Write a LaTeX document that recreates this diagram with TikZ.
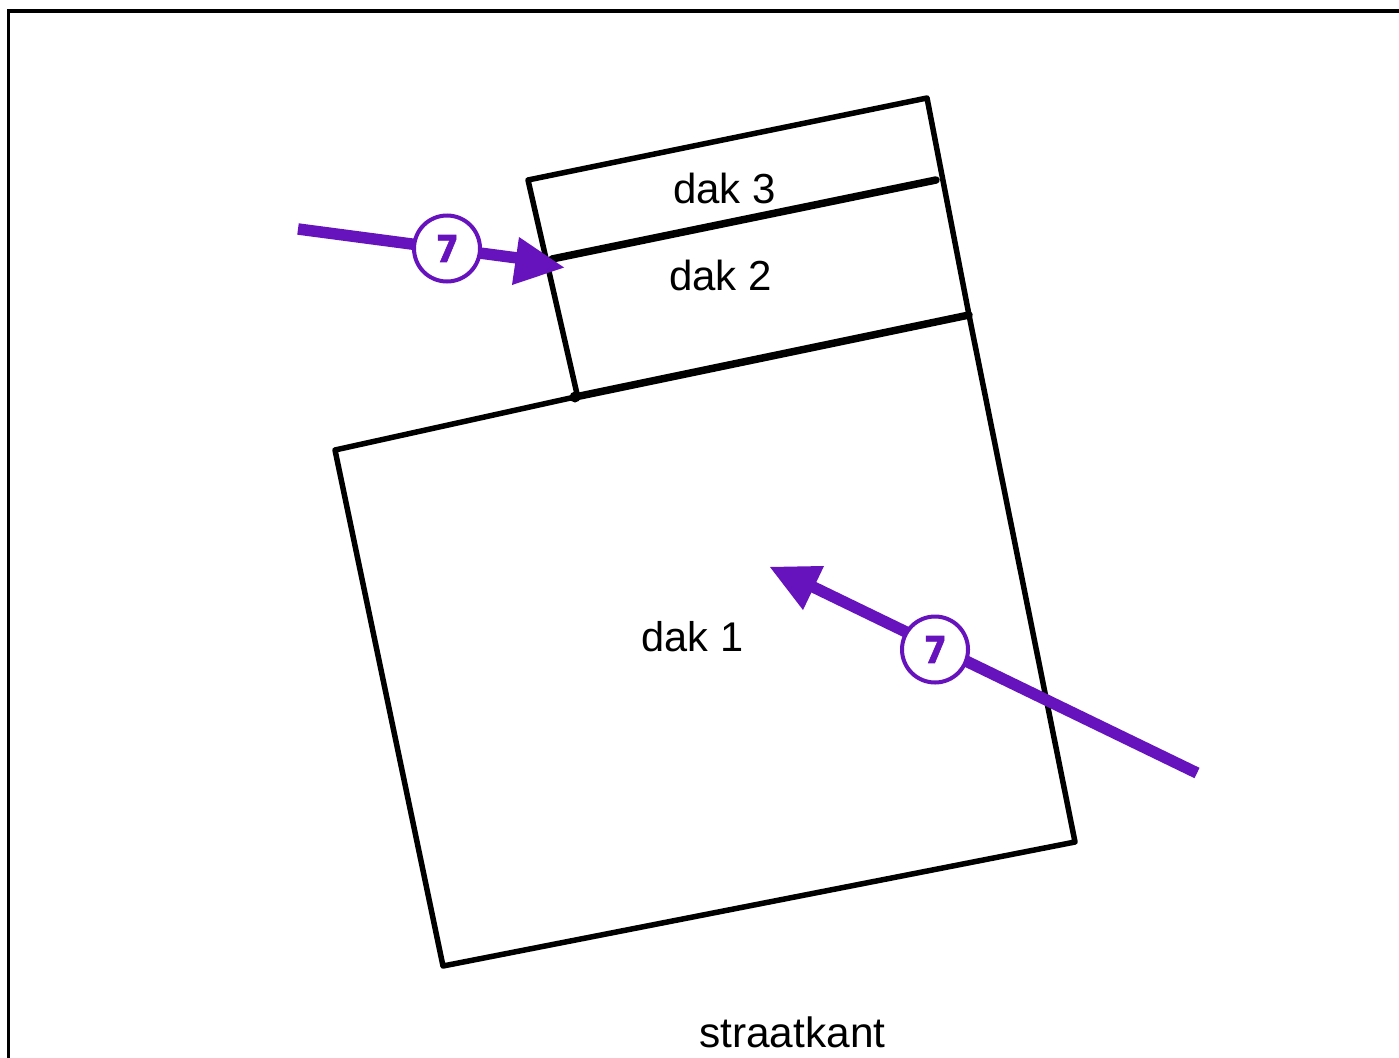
\documentclass[tikz,border=0pt]{standalone}
\usepackage{fontspec}
\setmainfont{Liberation Sans}
\newfontfamily\numfont[FakeBold=1.5]{Poppins}
\definecolor{arrowpurple}{HTML}{6612BD}
\tikzset{
  x=1pt,y=-1pt,
  frameline/.style={draw=black,line width=3.6pt,line join=miter},
  wall/.style={draw=black,line width=5.5pt,line join=round,line cap=round},
  ridge/.style={draw=black,line width=7.5pt,line cap=round},
  shaft/.style={draw=arrowpurple,line width=11.5pt},
  head/.style={fill=arrowpurple,draw=none},
  badge/.style={circle,draw=arrowpurple,fill=white,line width=4pt,minimum size=66pt,inner sep=0pt,
    text=arrowpurple,font=\numfont\bfseries\fontsize{37}{44}\selectfont},
  label/.style={anchor=base west,inner sep=0pt,font=\fontsize{42}{50}\selectfont}
}
\begin{document}
\begin{tikzpicture}
\useasboundingbox (0,0) rectangle (1399,1057);
\fill[white] (0,0) rectangle (1399,1057);
\begin{scope}
\clip (0,0) rectangle (1399,1057);
\draw[frameline] (8.5,1060) -- (8.5,11) -- (1402,11);
\end{scope}
% corners
\coordinate (a) at (335,450);
\coordinate (b) at (443,966);
\coordinate (c) at (1075,842);
\coordinate (d) at (969,315);
\coordinate (e) at (575,397);
\coordinate (e2) at (577,394);
\coordinate (f) at (528,180);
\coordinate (g) at (927,98);
\coordinate (h) at (552,259);
\coordinate (i) at (936,180);
\draw[wall] (e) -- (a) -- (b) -- (c) -- (d) -- (g) -- (f) -- (e2);
\draw[ridge] (h) -- (i);
\draw[ridge] (e) -- (d);
\fill (e) circle (5.5pt);
% labels
\node[label] (dak3) at (673,203) {dak 3};
\node[label] (dak2) at (669,290) {dak 2};
\node[label,font=\fontsize{41.5}{50}\selectfont] (dak1) at (641.5,651) {dak 1};
\node[label,font=\fontsize{42.4}{50}\selectfont] (street) at (699,1047) {straatkant};
% arrows
\coordinate (s1) at (298,229);
\coordinate (t1) at (525,259);
\coordinate (s2) at (1197,773);
\coordinate (t2) at (805,583);
\draw[shaft] (s1) -- (t1);
\fill[head] (564,267.5) -- (519,237) -- (512,285) -- cycle;
\draw[shaft] (s2) -- (t2);
\fill[head] (770,567) -- (824,566) -- (803,610) -- cycle;
\node[badge] (n1) at (447,248.5) {7};
\node[badge] (n2) at (935,649.5) {7};
\end{tikzpicture}
\end{document}
